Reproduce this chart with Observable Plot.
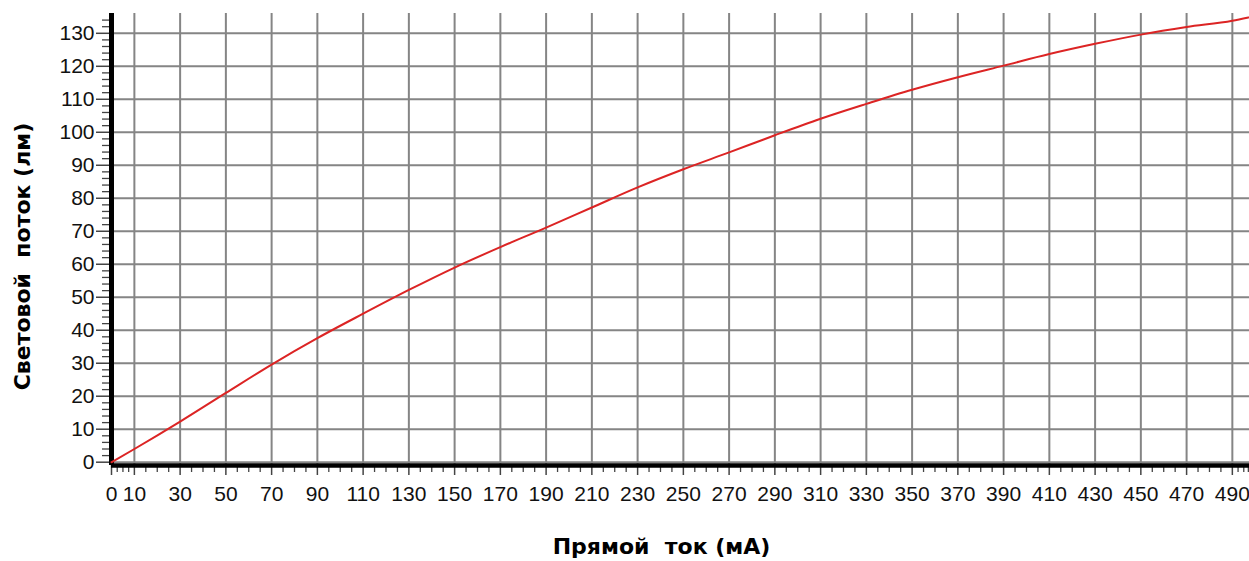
<!DOCTYPE html>
<html>
<head>
<meta charset="utf-8">
<script src="https://cdn.jsdelivr.net/npm/d3@7"></script>
<script src="https://cdn.jsdelivr.net/npm/@observablehq/plot@0.6"></script>
<style>
  html, body { margin: 0; padding: 0; background: #fff; }
  #chart svg { display: block; }
</style>
</head>
<body>
<div id="chart"></div>
<script>
// Current (mA) and luminous flux (lm)
const current = [0, 10, 30, 50, 70, 90, 110, 130, 150, 170, 190, 210, 230, 250, 270, 290, 310, 330, 350, 370, 390, 410, 430, 450, 470, 490, 497];
const flux    = [0, 4, 12.3, 21, 29.6, 37.6, 45, 52.2, 59, 65.2, 71.1, 77.2, 83.3, 88.8, 93.9, 99.1, 104.1, 108.6, 112.9, 116.7, 120.2, 123.7, 126.8, 129.6, 131.9, 133.8, 134.8];

// Tick labels
const xTickValues = [0, 10, 30, 50, 70, 90, 110, 130, 150, 170, 190, 210, 230, 250, 270, 290, 310, 330, 350, 370, 390, 410, 430, 450, 470, 490];
const xGridValues = [10, 30, 50, 70, 90, 110, 130, 150, 170, 190, 210, 230, 250, 270, 290, 310, 330, 350, 370, 390, 410, 430, 450, 470, 490];
const xMinorValues = [2.5, 5, 7.5, 15, 20, 25, 35, 40, 45, 55, 60, 65, 75, 80, 85, 95, 100, 105, 115, 120, 125, 135, 140, 145, 155, 160, 165, 175, 180, 185, 195, 200, 205, 215, 220, 225, 235, 240, 245, 255, 260, 265, 275, 280, 285, 295, 300, 305, 315, 320, 325, 335, 340, 345, 355, 360, 365, 375, 380, 385, 395, 400, 405, 415, 420, 425, 435, 440, 445, 455, 460, 465, 475, 480, 485, 492.5, 495, 497];
const yTickValues = [0, 10, 20, 30, 40, 50, 60, 70, 80, 90, 100, 110, 120, 130];
const yMinorValues = [2, 4, 6, 8, 12, 14, 16, 18, 22, 24, 26, 28, 32, 34, 36, 38, 42, 44, 46, 48, 52, 54, 56, 58, 62, 64, 66, 68, 72, 74, 76, 78, 82, 84, 86, 88, 92, 94, 96, 98, 102, 104, 106, 108, 112, 114, 116, 118, 122, 124, 126, 128, 132, 134];

const xTitle = "Прямой\u00a0\u00a0ток (мА)";
const yTitle = "Световой\u00a0\u00a0поток (лм)";

const data = current.map((c, i) => ({current: c, flux: flux[i]}));

const chart = Plot.plot({
  width: 1249,
  height: 561,
  marginLeft: 111,
  marginRight: 0,
  marginTop: 13,
  marginBottom: 96,
  style: {fontFamily: "'Liberation Sans', Arial, sans-serif", fontSize: "21px", color: "#111", background: "#fff"},
  x: {domain: [0, 497.5], label: null},
  y: {domain: [-1, 136], label: null},
  marks: [
    // grid
    Plot.ruleX(xGridValues, {x: d => d, stroke: "#858585", strokeWidth: 2}),
    Plot.ruleY(yTickValues, {y: d => d, stroke: "#858585", strokeWidth: 2}),
    // minor ticks
    Plot.axisX(xMinorValues, {tickSize: 7, text: null, label: null, stroke: "#444", strokeWidth: 1.3}),
    Plot.axisY(yMinorValues, {tickSize: 9, text: null, label: null, stroke: "#444", strokeWidth: 1.3}),
    // major ticks + labels
    Plot.axisX(xTickValues, {tickSize: 10, tickPadding: 11, stroke: "#444", strokeWidth: 1.5, label: null, fontSize: 21, fill: "#111"}),
    Plot.axisY(yTickValues, {tickSize: 15, tickPadding: 2, stroke: "#444", strokeWidth: 1.5, label: null, fontSize: 21, fill: "#111"}),
    // axis lines
    Plot.ruleX([0], {stroke: "#000", strokeWidth: 5, y1: -1, y2: 136}),
    Plot.ruleY([-1], {stroke: "#000", strokeWidth: 4.5}),
    // curve
    Plot.line(data, {x: "current", y: "flux", stroke: "#dc2424", strokeWidth: 2, curve: "monotone-x"}),
    // titles
    Plot.text([xTitle], {frameAnchor: "bottom", text: d => d, textAnchor: "middle", lineAnchor: "middle", dx: -19, dy: 81, fontFamily: "'DejaVu Sans', Verdana, sans-serif", fontWeight: "bold", fontSize: 22, fill: "#000"}),
    Plot.text([yTitle], {frameAnchor: "left", text: d => d, textAnchor: "middle", lineAnchor: "middle", rotate: -90, dx: -89, dy: 17, fontFamily: "'DejaVu Sans', Verdana, sans-serif", fontWeight: "bold", fontSize: 22, fill: "#000"})
  ]
});

document.getElementById("chart").appendChild(chart);
</script>
</body>
</html>
